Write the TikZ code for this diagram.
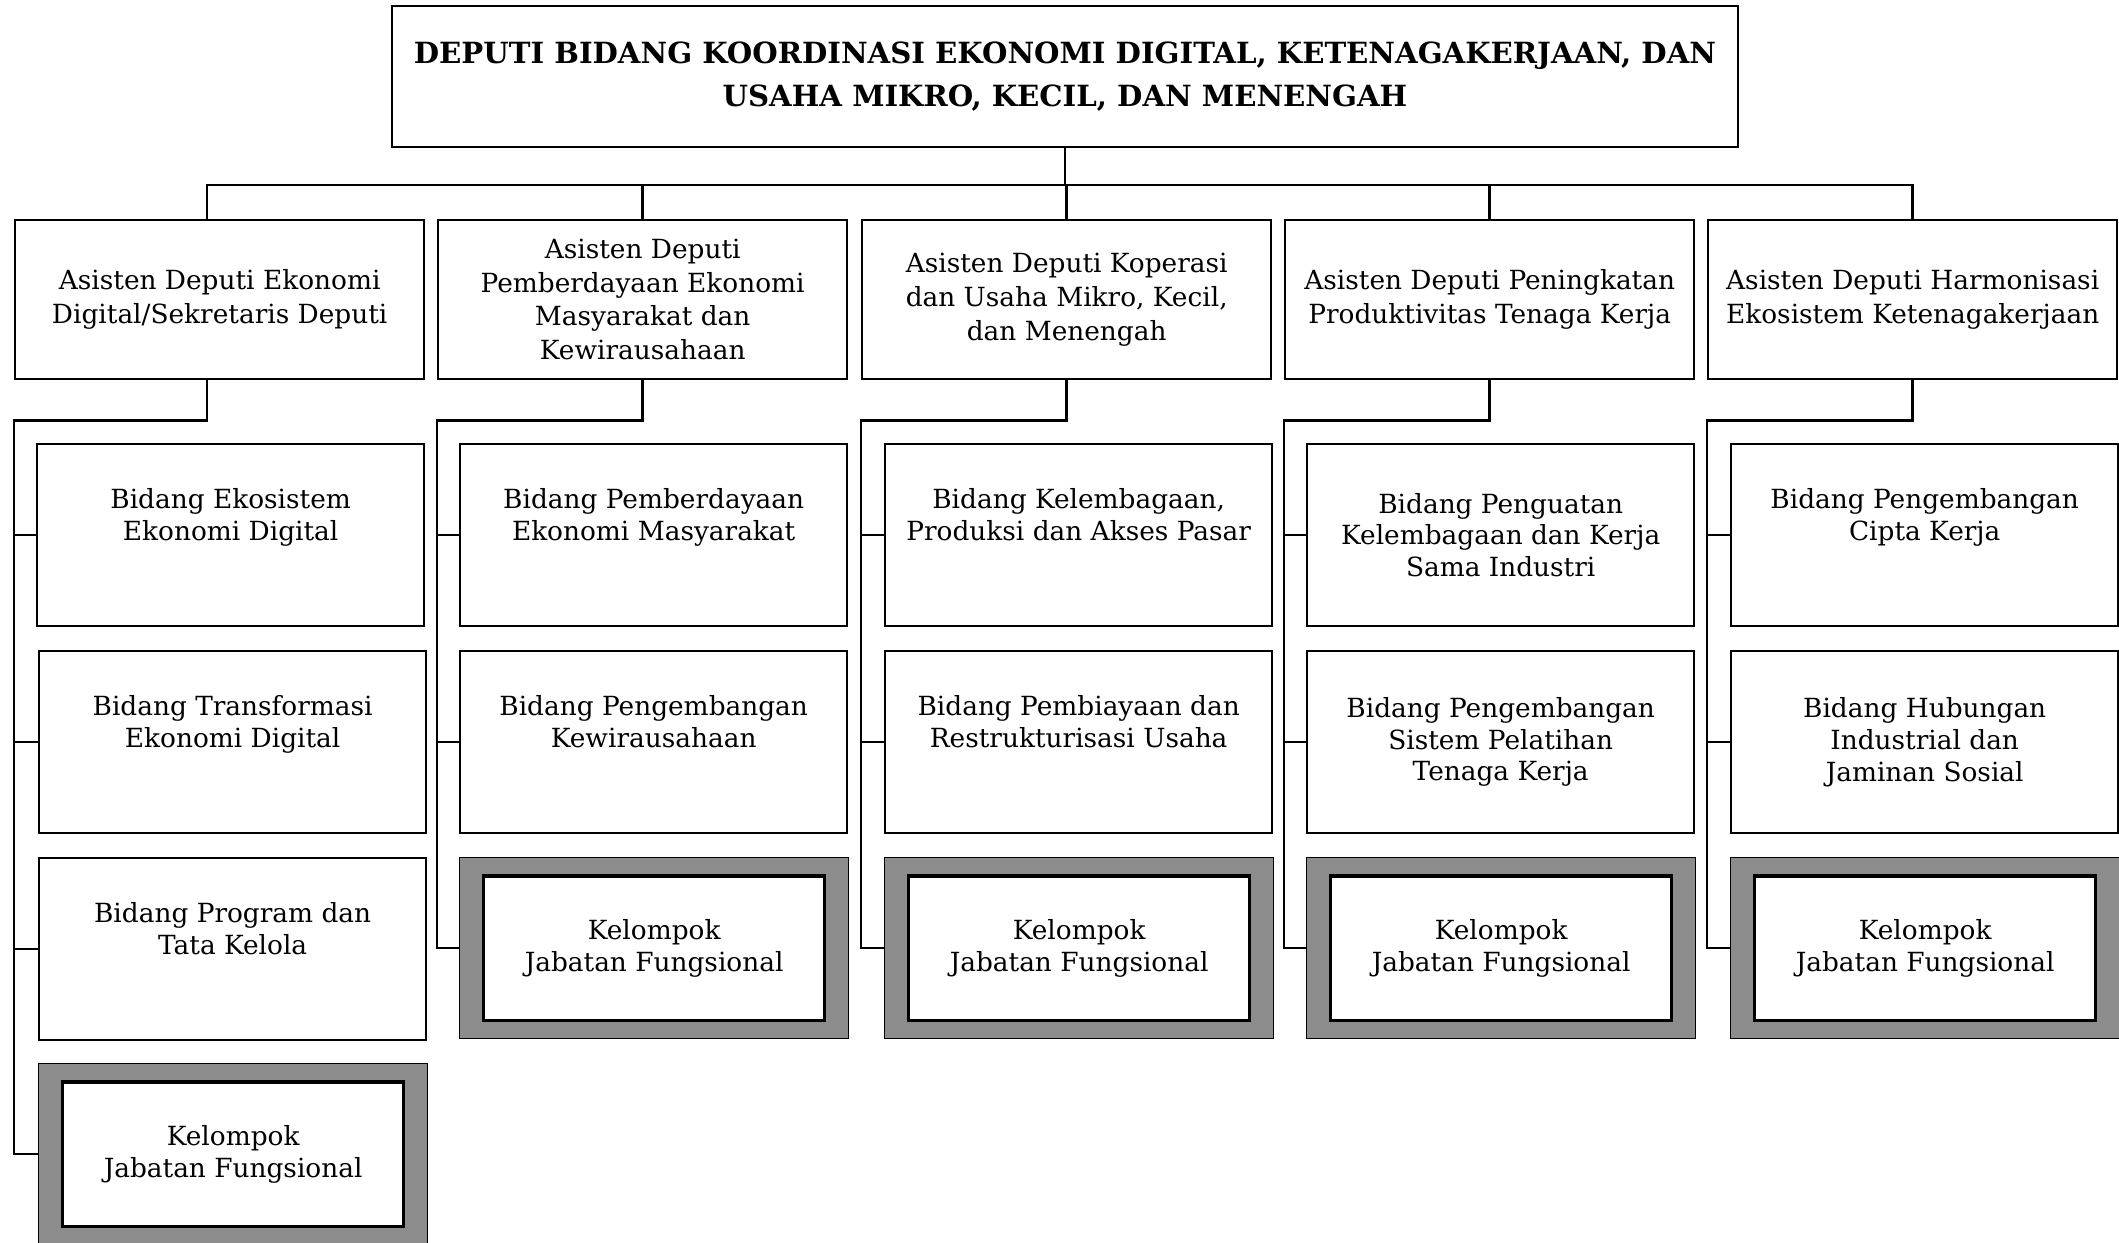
\documentclass[tikz,border=0pt]{standalone}
\usepackage{fontspec}
\setmainfont{DejaVu Serif}
\tikzset{
  box/.style={draw, line width=0.6pt, anchor=north west, inner sep=2pt,
              align=center, font=\fontsize{7.5}{9}\selectfont},
  asisten/.style={box, minimum width=4.09cm, minimum height=1.59cm,
                  font=\fontsize{7.5}{9.6}\selectfont},
  bidang/.style={box, minimum width=3.87cm, minimum height=1.82cm},
  kelompok/.style={draw, line width=0.3pt, anchor=north west, fill=black!45,
                   minimum width=3.89cm, minimum height=1.81cm, inner sep=0pt},
  jafung/.style={box, anchor=center, fill=white, line width=0.9pt,
                 minimum width=3.41cm, minimum height=1.44cm},
  conn/.style={line width=0.75pt}
}

\begin{document}
\begin{tikzpicture}[x=0.01cm, y=-0.01cm]
  \useasboundingbox (0,0) rectangle (2119,1243);

  \node[box, anchor=north, minimum width=13.46cm, minimum height=1.41cm,
        font=\bfseries\fontsize{8.3}{12}\selectfont] (deputi) at (1065,5)
    {DEPUTI BIDANG KOORDINASI EKONOMI DIGITAL, KETENAGAKERJAAN, DAN\\
     USAHA MIKRO, KECIL, DAN MENENGAH};

  \node[asisten] (a1) at (14,219) {Asisten Deputi Ekonomi\\Digital/Sekretaris Deputi};
  \node[asisten] (a2) at (437,219) {Asisten Deputi\\Pemberdayaan Ekonomi\\Masyarakat dan\\Kewirausahaan};
  \node[asisten] (a3) at (861,219) {Asisten Deputi Koperasi\\dan Usaha Mikro, Kecil,\\dan Menengah};
  \node[asisten] (a4) at (1284,219) {Asisten Deputi Peningkatan\\Produktivitas Tenaga Kerja};
  \node[asisten] (a5) at (1707,219) {Asisten Deputi Harmonisasi\\Ekosistem Ketenagakerjaan};

  % bidang
  \node[bidang] (b1a) at (36,443) {Bidang Ekosistem\\Ekonomi Digital\\\strut};
  \node[bidang] (b1b) at (38,650) {Bidang Transformasi\\Ekonomi Digital\\\strut};
  \node[bidang] (b1c) at (38,857) {Bidang Program dan\\Tata Kelola\\\strut};
  \node[bidang] (b2a) at (459,443) {Bidang Pemberdayaan\\Ekonomi Masyarakat\\\strut};
  \node[bidang] (b2b) at (459,650) {Bidang Pengembangan\\Kewirausahaan\\\strut};
  \node[bidang] (b3a) at (884,443) {Bidang Kelembagaan,\\Produksi dan Akses Pasar\\\strut};
  \node[bidang] (b3b) at (884,650) {Bidang Pembiayaan dan\\Restrukturisasi Usaha\\\strut};
  \node[bidang] (b4a) at (1306,443) {Bidang Penguatan\\Kelembagaan dan Kerja\\Sama Industri};
  \node[bidang] (b4b) at (1306,650) {Bidang Pengembangan\\Sistem Pelatihan\\Tenaga Kerja};
  \node[bidang] (b5a) at (1730,443) {Bidang Pengembangan\\Cipta Kerja\\\strut};
  \node[bidang] (b5b) at (1730,650) {Bidang Hubungan\\Industrial dan\\Jaminan Sosial};

  % kelompok jabatan fungsional
  \node[kelompok] (k1) at (38,1063) {};
  \node[kelompok] (k2) at (459,857) {};
  \node[kelompok] (k3) at (884,857) {};
  \node[kelompok] (k4) at (1306,857) {};
  \node[kelompok] (k5) at (1730,857) {};
  \node[jafung] (j1) at (k1.center) {Kelompok\\Jabatan Fungsional};
  \node[jafung] (j2) at (k2.center) {Kelompok\\Jabatan Fungsional};
  \node[jafung] (j3) at (k3.center) {Kelompok\\Jabatan Fungsional};
  \node[jafung] (j4) at (k4.center) {Kelompok\\Jabatan Fungsional};
  \node[jafung] (j5) at (k5.center) {Kelompok\\Jabatan Fungsional};

  \coordinate (bus) at (0,185);
  \draw[conn] (deputi.south) -- (deputi.south |- bus);
  \draw[conn] ([xshift=-0.125cm]a1.north) |- (bus -| a5.north) -- (a5.north);
  \draw[conn] (a2.north) -- (a2.north |- bus);
  \draw[conn] (a3.north) -- (a3.north |- bus);
  \draw[conn] (a4.north) -- (a4.north |- bus);

  \draw[conn] ([xshift=-0.125cm]a1.south) -- ++(0,40) -| (a1.west |- k1.west) -- (k1.west);
  \draw[conn] (a1.west |- b1a.west) -- (b1a.west);
  \draw[conn] (a1.west |- b1b.west) -- (b1b.west);
  \draw[conn] (a1.west |- b1c.west) -- (b1c.west);

  \draw[conn] (a2.south) -- ++(0,40) -| (a2.west |- k2.west) -- (k2.west);
  \draw[conn] (a2.west |- b2a.west) -- (b2a.west);
  \draw[conn] (a2.west |- b2b.west) -- (b2b.west);

  \draw[conn] (a3.south) -- ++(0,40) -| (a3.west |- k3.west) -- (k3.west);
  \draw[conn] (a3.west |- b3a.west) -- (b3a.west);
  \draw[conn] (a3.west |- b3b.west) -- (b3b.west);

  \draw[conn] (a4.south) -- ++(0,40) -| (a4.west |- k4.west) -- (k4.west);
  \draw[conn] (a4.west |- b4a.west) -- (b4a.west);
  \draw[conn] (a4.west |- b4b.west) -- (b4b.west);

  \draw[conn] (a5.south) -- ++(0,40) -| (a5.west |- k5.west) -- (k5.west);
  \draw[conn] (a5.west |- b5a.west) -- (b5a.west);
  \draw[conn] (a5.west |- b5b.west) -- (b5b.west);
\end{tikzpicture}
\end{document}
